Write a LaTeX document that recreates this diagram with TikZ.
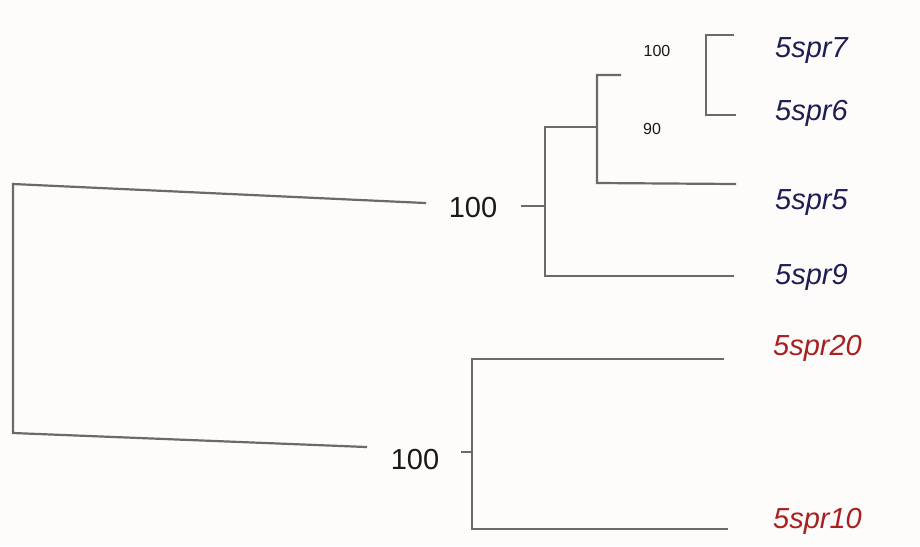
\documentclass[tikz,border=0pt]{standalone}
\usepackage{fontspec}
\setmainfont{Liberation Sans}
\definecolor{navy}{HTML}{1E1E55}
\definecolor{darkred}{HTML}{A82020}
\definecolor{branch}{HTML}{6A6A6A}
\definecolor{paper}{HTML}{FEFBFB}
\begin{document}
\begin{tikzpicture}[x=1pt,y=-1pt,
  br/.style={draw=branch,line width=2.2pt,line cap=rect},
  taxon/.style={anchor=base west,inner sep=0pt,font=\itshape\fontsize{29}{29}\selectfont},
  bluetaxon/.style={taxon,text=navy},
  redtaxon/.style={taxon,text=darkred},
  bigsup/.style={inner sep=0pt,font=\fontsize{29}{29}\selectfont,text=black!90},
  smallsup/.style={inner sep=0pt,font=\fontsize{16}{16}\selectfont,text=black!90}]
\fill[paper] (0,0) rectangle (920,546);
\useasboundingbox (0,0) rectangle (920,546);

% root
\coordinate (R1) at (13,184);
\coordinate (R2) at (13,433);
\coordinate (R1e) at (425,203);
\coordinate (R2e) at (366,447);
% upper clade
\coordinate (At) at (522,206);
\coordinate (A)  at (545,206);
\coordinate (A1) at (545,127);
\coordinate (A2) at (545,276);
\coordinate (B)  at (597,127);
\coordinate (B1) at (597,75);
\coordinate (B2) at (597,183);
\coordinate (B1e) at (620,75);
\coordinate (C1) at (706,35);
\coordinate (C2) at (706,115);
% lower clade
\coordinate (Dt) at (462,452);
\coordinate (D)  at (472,452);
\coordinate (D1) at (472,359);
\coordinate (D2) at (472,529);

% taxa
\node[bluetaxon] (s7)  at (775,57)  {5spr7};
\node[bluetaxon] (s6)  at (775,120) {5spr6};
\node[bluetaxon] (s5)  at (775,209) {5spr5};
\node[bluetaxon] (s9)  at (775,284) {5spr9};
\node[redtaxon]  (s20) at (773,355) {5spr20};
\node[redtaxon]  (s10) at (773,528) {5spr10};

% leaf ends
\coordinate (e7)  at (733,35);
\coordinate (e6)  at (735,115);
\coordinate (e5)  at (735,184);
\coordinate (e9)  at (733,276);
\coordinate (e20) at (723,359);
\coordinate (e10) at (727,529);

% support values
\node[bigsup]   (n1) at (473,208) {100};
\node[bigsup]   (n2) at (415,460) {100};
\node[smallsup] (n3) at (657,51)  {100};
\node[smallsup] (n4) at (652,129) {90};

% branches
\draw[br] (R1e) -- (R1) -- (R2) -- (R2e);
\draw[br] (At) -- (A);
\draw[br] (A1) -- (A2);
\draw[br] (A1) -- (B);
\draw[br] (A2) -- (e9);
\draw[br] (B1e) -- (B1) -- (B2) -- (e5);
\draw[br] (e7) -- (C1) -- (C2) -- (e6);
\draw[br] (Dt) -- (D);
\draw[br] (e20) -- (D1) -- (D2) -- (e10);
\end{tikzpicture}
\end{document}
